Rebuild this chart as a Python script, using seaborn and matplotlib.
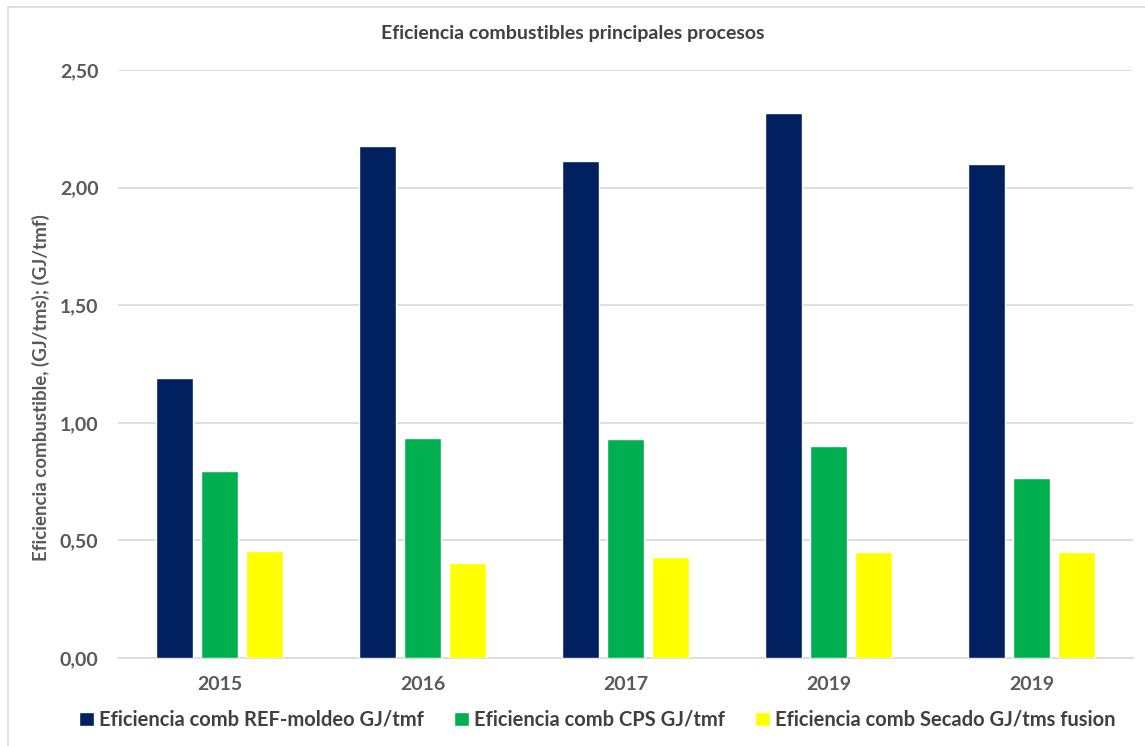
import matplotlib
matplotlib.use("Agg")
import matplotlib.pyplot as plt
from matplotlib.lines import Line2D
import seaborn as sns
import pandas as pd

years = ["2015", "2016", "2017", "2019", "2019"]
series = ["Eficiencia comb REF-moldeo GJ/tmf",
          "Eficiencia comb CPS GJ/tmf",
          "Eficiencia comb Secado GJ/tms fusion"]
ref_moldeo = [1.19, 2.177, 2.113, 2.317, 2.10]
cps = [0.795, 0.935, 0.931, 0.901, 0.765]
secado = [0.455, 0.404, 0.429, 0.451, 0.452]
colors = ["#002060", "#00B050", "#FFFF00"]

rows = []
for i, y in enumerate(years):
    for s, vals in zip(series, [ref_moldeo, cps, secado]):
        rows.append({"pos": i, "serie": s, "valor": vals[i]})
df = pd.DataFrame(rows)

sns.set_theme(style="white")
plt.rcParams['font.family'] = ['Lato', 'DejaVu Sans']

W, H = 1145, 746
fig = plt.figure(figsize=(W / 100, H / 100), dpi=100)
ax = fig.add_axes([118 / W, 1 - 658 / H, 1015 / W, 588 / H])

sns.barplot(data=df, x="pos", y="valor", hue="serie", hue_order=series,
            palette=colors, width=0.665, gap=0.18, ax=ax, saturation=1,
            legend=True, zorder=3)

ticks = [0, 0.5, 1.0, 1.5, 2.0, 2.5]
ax.set_ylim(0, 2.5)
ax.set_yticks(ticks)
ax.set_yticklabels([f"{v:.2f}".replace(".", ",") for v in ticks])
ax.set_xticks(range(len(years)))
ax.set_xticklabels(years)
ax.set_xlim(-0.5, len(years) - 0.5)
ax.yaxis.grid(True, color="#d9d9d9", linewidth=1.2, zorder=0)
ax.set_axisbelow(True)
for sp in ["top", "right", "left"]:
    ax.spines[sp].set_visible(False)
ax.spines["bottom"].set_color("#d9d9d9")
ax.spines["bottom"].set_linewidth(1.2)
ax.tick_params(axis="both", length=0, labelsize=14, colors="#595959")
ax.tick_params(axis="x", pad=13)
ax.tick_params(axis="y", pad=14)
for lab in ax.get_xticklabels() + ax.get_yticklabels():
    lab.set_fontweight("bold")
ax.set_xlabel("")
ax.set_ylabel("Eficiencia combustible, (GJ/tms); (GJ/tmf)", fontsize=13.5,
              color="#595959", fontweight="bold")
ax.yaxis.set_label_coords((50 - 118) / 1015, (658 - 388) / 588)

fig.text(0.5, 1 - 33 / H, "Eficiencia combustibles principales procesos",
         ha="center", va="center", fontsize=14, color="#404040", fontweight="bold")

handles, labels = ax.get_legend_handles_labels()
ax.get_legend().remove()
fig.legend(handles, labels, loc="center", bbox_to_anchor=(597 / W, 1 - 720 / H),
           ncol=3, frameon=False, handlelength=0.75, handleheight=0.75,
           handletextpad=0.25, columnspacing=1.5, labelcolor="#404040",
           prop={"weight": "bold", "size": 14.5})

fig.add_artist(Line2D([8 / W, 8 / W], [0, 1 - 7 / H], transform=fig.transFigure,
                      color="#d9d9d9", linewidth=1.2))
fig.add_artist(Line2D([8 / W, 1], [1 - 7 / H, 1 - 7 / H], transform=fig.transFigure,
                      color="#d9d9d9", linewidth=1.2))

fig.savefig("out.png", dpi=100)
